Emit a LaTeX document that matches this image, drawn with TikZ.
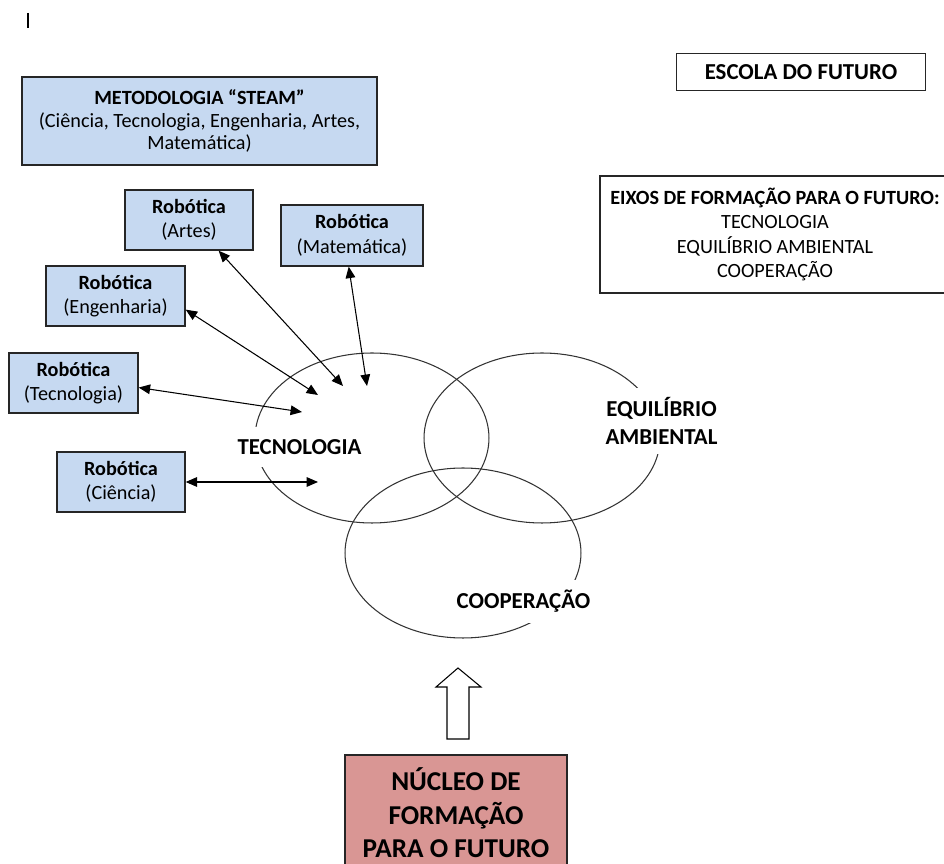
\documentclass[tikz,border=0pt]{standalone}
\usepackage{fontspec}
\setmainfont{Carlito}
\usepackage{xcolor}
\usetikzlibrary{arrows.meta, positioning, shapes.geometric}
\definecolor{steamblue}{RGB}{198,217,241}
\definecolor{nucleored}{RGB}{217,150,148}
\newcommand{\smallfnt}{\fontsize{11.5}{14}\selectfont}
\newcommand{\steamfnt}{\fontsize{11.5}{13}\selectfont}
\newcommand{\labelfnt}{\fontsize{13}{16.4}\selectfont}
\newcommand{\bigfnt}{\fontsize{15.5}{19}\selectfont}

\begin{document}
\begin{tikzpicture}[
    x=0.02cm, y=-0.02cm,
    >={Triangle[length=6.5pt, width=5.5pt]},
    robot/.style={rectangle, draw=black!85, line width=0.8pt, fill=steamblue, minimum height=1.2cm, inner sep=2pt, align=center, font=\smallfnt},
    plainbox/.style={rectangle, draw=black!85, line width=0.8pt, inner sep=2pt, align=center},
    eixo/.style={ellipse, draw=black!80, line width=0.6pt, minimum width=4.7cm, minimum height=3.4cm, inner sep=0pt},
    eixolabel/.style={fill=white, inner sep=2pt, align=center, font=\labelfnt\bfseries},
    link/.style={<->, line width=0.6pt},
]
    \useasboundingbox (0,0) rectangle (944,864);
    \clip (0,0) rectangle (944,864);

    % cursor mark
    \draw[line width=0.7pt] (28,13) -- (28,28);

    % Title boxes
    \node[plainbox, fill=steamblue, minimum width=7.1cm, minimum height=1.76cm, font=\steamfnt] (steam) at (199.5,121)
        {\textbf{METODOLOGIA “STEAM”}\\(Ciência, Tecnologia, Engenharia, Artes,\\Matemática)};
    \node[plainbox, minimum width=4.98cm, minimum height=0.74cm, font=\labelfnt\bfseries] (escola) at (801,72) {ESCOLA DO FUTURO};
    \node[plainbox, minimum width=7.0cm, minimum height=2.34cm, font=\smallfnt] (eixos) at (775,234.5)
        {\textbf{EIXOS DE FORMAÇÃO PARA O FUTURO:}\\TECNOLOGIA\\EQUILÍBRIO AMBIENTAL\\COOPERAÇÃO};

    % Venn circles
    \node[eixo, minimum width=4.68cm] (tecEll) at (372,438) {};
    \node[eixo, minimum width=4.72cm] (ambEll) at (542,438) {};
    \node[eixo, minimum width=4.72cm] (coopEll) at (463,553) {};

    \node[eixolabel, minimum height=0.8cm] (tecLbl) at (299.5,447) {TECNOLOGIA};
    \node[eixolabel, minimum height=1.34cm] (ambLbl) at (661.5,421) {EQUILÍBRIO\\AMBIENTAL};
    \node[eixolabel, minimum height=0.86cm] (coopLbl) at (523.5,601.5) {COOPERAÇÃO};

    % Robotics row
    \node[robot, minimum width=2.56cm] (rArt) at (189,220) {\textbf{Robótica}\\(Artes)};
    \node[robot, minimum width=2.84cm, minimum height=1.22cm] (rMat) at (352,235.5) {\textbf{Robótica}\\(Matemática)};
    \node[robot, minimum width=2.78cm] (rEng) at (115.5,296) {\textbf{Robótica}\\(Engenharia)};
    \node[robot, minimum width=2.58cm] (rTec) at (73.5,383) {\textbf{Robótica}\\(Tecnologia)};
    \node[robot, minimum width=2.56cm] (rCie) at (121,482) {\textbf{Robótica}\\(Ciência)};

    \coordinate (tArt) at (343,386);
    \coordinate (tMat) at (367,386);
    \coordinate (tEng) at (318,395);
    \coordinate (tTec) at (302,412);
    \coordinate (tCie) at (318,482);

    \draw[link] (rArt.314) -- (tArt);
    \draw[link] (rMat.264) -- (tMat);
    \draw[link] (rEng.349) -- (tEng);
    \draw[link] (rTec.356) -- (tTec);
    \draw[link] (rCie.east) -- (tCie);

    % Core
    \node[plainbox, fill=nucleored, minimum width=4.44cm, minimum height=2.32cm, font=\bigfnt\bfseries] (nucleo) at (456,813)
        {NÚCLEO DE\\FORMAÇÃO\\PARA O FUTURO};
    \draw[line width=0.6pt, fill=white] (447,739) -- (447,687) -- (436,687) -- (458,668) -- (481,687) -- (469,687) -- (469,739) -- cycle;
\end{tikzpicture}
\end{document}
